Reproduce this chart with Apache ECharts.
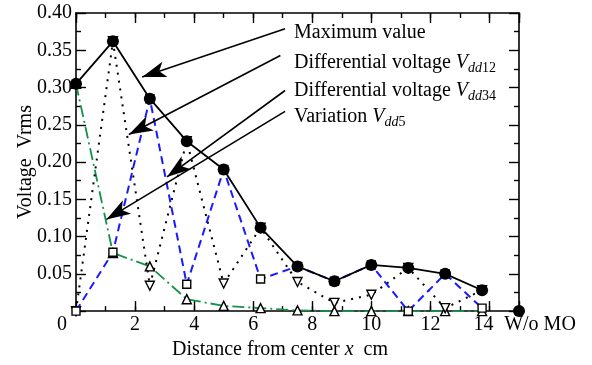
<!DOCTYPE html>
<html>
<head>
<meta charset="utf-8">
<script src="https://cdn.jsdelivr.net/npm/echarts@6/dist/echarts.min.js"></script>
<style>
  html, body { margin: 0; padding: 0; background: #fff; }
  #chart { width: 592px; height: 365px; }
</style>
</head>
<body>
<div id="chart"></div>
<script>
// distance from center (cm) of each measuring point
const distance = [0, 1.25, 2.5, 3.75, 5, 6.25, 7.5, 8.75, 10, 11.25, 12.5, 13.75];
const maxValue = [0.305, 0.362, 0.285, 0.228, 0.190, 0.112, 0.060, 0.040, 0.062, 0.058, 0.050, 0.028];
const vdd12 = [0, 0.079, 0.285, 0.036, 0.190, 0.043, 0.060, 0.040, 0.062, 0, 0.050, 0.004];
const vdd34 = [0, 0.362, 0.034, 0.228, 0.037, 0.112, 0.039, 0.011, 0.022, 0.058, 0.004, 0.028];
const vdd5 = [0.305, 0.078, 0.060, 0.016, 0.007, 0.004, 0.001, 0, 0, 0, 0, 0];
// reference measurement without the object
const woPosition = 15;
const woValue = 0;

const xEvenTicks = [0, 2, 4, 6, 8, 10, 12, 14];

// arrows from the annotation texts, [from, to] in data coordinates
const arrows = [
  [[7.08, 0.379], [2.24, 0.314]],
  [[6.92, 0.343], [1.79, 0.237]],
  [[7.08, 0.296], [3.08, 0.180]],
  [[7.08, 0.268], [1.03, 0.123]]
];

const FONT = '"Liberation Serif", "DejaVu Serif", serif';
const BLACK = '#000';
const GREEN = '#17924a';
const BLUE = '#1a1aff';

const chart = echarts.init(document.getElementById('chart'), null, { renderer: 'canvas' });

const pairs = (ys) => distance.map((x, i) => [x, ys[i]]);

const axisLine = { show: true, onZero: false, lineStyle: { color: BLACK, width: 1.6 } };
const tickStyle = { color: BLACK, width: 1.4 };

function xAxisOf(position, interval, len, withLine, withLabel) {
  return {
    type: 'value', min: 0, max: 15, interval: interval, position: position,
    axisLine: withLine ? axisLine : { show: false, onZero: false },
    axisTick: { show: true, inside: true, length: len, lineStyle: tickStyle },
    splitLine: { show: false },
    axisLabel: withLabel ? {
      show: true, margin: 4, color: BLACK, fontFamily: FONT, fontSize: 20,
      showMinLabel: true, showMaxLabel: true,
      formatter: (v) => {
        if (v === woPosition) return '{w|W/o MO}';
        if (xEvenTicks.indexOf(v) < 0) return '';
        if (v === 0) return '{z|0}';
        if (v === 14) return '{f|14}';
        return '{n|' + v + '}';
      },
      rich: {
        n: { fontFamily: FONT, fontSize: 20, color: BLACK },
        z: { fontFamily: FONT, fontSize: 20, color: BLACK, padding: [0, 28, 0, 0] },
        f: { fontFamily: FONT, fontSize: 20, color: BLACK, padding: [0, 12, 0, 0] },
        w: { fontFamily: FONT, fontSize: 20, color: BLACK, padding: [0, 0, 0, 42] }
      }
    } : { show: false }
  };
}

function yAxisOf(position, withLabel) {
  return {
    type: 'value', min: 0, max: 0.4, interval: 0.05, position: position,
    axisLine: axisLine,
    axisTick: { show: true, inside: true, length: 10, lineStyle: tickStyle },
    minorTick: { show: true, splitNumber: 2, length: 5, lineStyle: tickStyle },
    splitLine: { show: false },
    name: withLabel ? 'Voltage  Vrms' : '',
    nameLocation: 'middle',
    nameGap: 40,
    nameMoveOverlap: false,
    nameTextStyle: { color: BLACK, fontFamily: FONT, fontSize: 20 },
    axisLabel: withLabel ? {
      show: true, margin: 4, color: BLACK, fontFamily: FONT, fontSize: 20,
      formatter: (v) => (v === 0 ? '' : v.toFixed(2))
    } : { show: false }
  };
}

const xMain = xAxisOf('bottom', 1, 5, true, true);
xMain.name = '{a|Distance from center }{i|x}{a|  cm}';
xMain.nameLocation = 'middle';
xMain.nameGap = 22;
xMain.nameTextStyle = {
  color: BLACK, fontFamily: FONT, fontSize: 20, padding: [0, 35, 0, 0],
  rich: {
    a: { fontFamily: FONT, fontSize: 20, color: BLACK },
    i: { fontFamily: FONT, fontSize: 20, color: BLACK, fontStyle: 'italic' }
  }
};

const markerStyle = { color: '#fff', borderColor: BLACK, borderWidth: 1.4 };

const subRich = {
  a: { fontFamily: FONT, fontSize: 20, color: BLACK },
  v: { fontFamily: FONT, fontSize: 20, color: BLACK, fontStyle: 'italic' },
  s: { fontFamily: FONT, fontSize: 14, color: BLACK, fontStyle: 'italic', padding: [10, 0, 0, 0] },
  n: { fontFamily: FONT, fontSize: 14, color: BLACK, padding: [10, 0, 0, 0] }
};

const notes = [
  { text: '{a|Maximum value}', y: 32 },
  { text: '{a|Differential voltage }{v|V}{s|dd}{n|12}', y: 62 },
  { text: '{a|Differential voltage }{v|V}{s|dd}{n|34}', y: 90 },
  { text: '{a|Variation }{v|V}{s|dd}{n|5}', y: 116 }
];

const option = {
  animation: false,
  backgroundColor: '#fff',
  grid: { left: 76, right: 73, top: 13, bottom: 48, containLabel: false },
  xAxis: [
    xMain,
    xAxisOf('bottom', 2, 10, false, false),
    xAxisOf('top', 1, 5, true, false),
    xAxisOf('top', 2, 10, false, false)
  ],
  yAxis: [yAxisOf('left', true), yAxisOf('right', false)],
  graphic: notes.map((n) => ({
    type: 'text', left: 294, top: n.y - 9, silent: true,
    style: { text: n.text, rich: subRich, fill: BLACK, font: '20px ' + FONT }
  })),
  series: [
    {
      name: 'Variation Vdd5', type: 'line', data: pairs(vdd5),
      symbol: 'triangle', symbolSize: 9, itemStyle: markerStyle,
      lineStyle: { color: GREEN, width: 1.8, type: [12, 4, 2, 4] },
      emphasis: { disabled: true }, z: 2
    },
    {
      name: 'Differential voltage Vdd34', type: 'line', data: pairs(vdd34),
      symbol: 'triangle', symbolRotate: 180, symbolSize: 9, itemStyle: markerStyle,
      lineStyle: { color: BLACK, width: 2, type: [2, 6] },
      emphasis: { disabled: true }, z: 3
    },
    {
      name: 'Differential voltage Vdd12', type: 'line', data: pairs(vdd12),
      symbol: 'rect', symbolSize: 8, itemStyle: markerStyle,
      lineStyle: { color: BLUE, width: 2, type: [8, 5] },
      emphasis: { disabled: true }, z: 4
    },
    {
      name: 'Maximum value', type: 'line', data: pairs(maxValue),
      symbol: 'circle', symbolSize: 12, itemStyle: { color: BLACK },
      lineStyle: { color: BLACK, width: 1.8 },
      emphasis: { disabled: true }, z: 5,
      markLine: {
        silent: true, animation: false,
        lineStyle: { color: BLACK, width: 1.6, type: 'solid' },
        label: { show: false },
        data: arrows.map(([from, to]) => [
          { coord: from, symbol: 'none' },
          { coord: to, symbol: 'arrow', symbolSize: [12, 24] }
        ])
      }
    },
    {
      name: 'W/o MO', type: 'scatter', data: [[woPosition, woValue]],
      symbol: 'circle', symbolSize: 12, itemStyle: { color: BLACK, opacity: 1 }, z: 6
    }
  ]
};

chart.setOption(option);
</script>
</body>
</html>
